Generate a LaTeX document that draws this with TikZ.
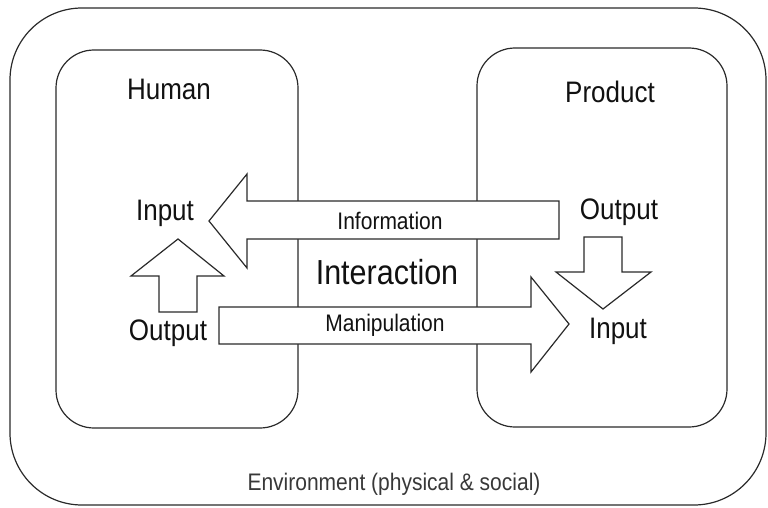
\documentclass[tikz,border=0pt]{standalone}
\usepackage{fontspec}
\setmainfont{Liberation Sans}
\usepackage{graphicx}
\definecolor{ink}{HTML}{2A2A2A}
\definecolor{lbl}{HTML}{111111}
\definecolor{envtext}{HTML}{383838}
\newcommand{\stx}[2]{\scalebox{1}[1.14]{\fontsize{#1}{#1}\selectfont #2}}
\begin{document}
\begin{tikzpicture}[x=1pt,y=-1pt,
  frame/.style={draw=ink,line width=1.2pt},
  blockarrow/.style={draw=ink,line width=1.2pt,fill=white,line join=miter},
  biglabel/.style={text=lbl,inner sep=0pt},
  smalllabel/.style={text=lbl,inner sep=0pt}]
\useasboundingbox (0,0) rectangle (768,508);
% environment
\draw[frame,rounded corners=72pt] (10,8) rectangle (766,505);
% human and product boxes
\draw[frame,rounded corners=38pt] (56,50) rectangle (298,428);
\draw[frame,rounded corners=38pt] (477,48) rectangle (727,427);
% information arrow (pointing left)
\draw[blockarrow] (559,201) -- (247,201) -- (247,174) -- (209,221) -- (247,268) -- (247,239) -- (559,239) -- cycle;
% manipulation arrow (pointing right)
\draw[blockarrow] (219,307) -- (531,307) -- (531,277) -- (569,324) -- (531,372) -- (531,344) -- (219,344) -- cycle;
% human up arrow
\draw[blockarrow] (159,312) -- (159,276) -- (131,276) -- (178,239) -- (224,276) -- (197,276) -- (197,312) -- cycle;
% product down arrow
\draw[blockarrow] (584,237) -- (622,237) -- (622,272) -- (651,272) -- (603,309) -- (556,272) -- (584,272) -- cycle;
% labels
\node[biglabel] (human) at (169,89) {\stx{26}{Human}};
\node[biglabel] (product) at (610,92) {\stx{26}{Product}};
\node[biglabel] (hin) at (165,213) {\stx{26}{Input}};
\node[biglabel] (hout) at (168,333) {\stx{26}{Output}};
\node[biglabel] (pout) at (619,212) {\stx{26}{Output}};
\node[biglabel] (pin) at (618,331) {\stx{26}{Input}};
\node[biglabel] (inter) at (387,272) {\stx{30.5}{Interaction}};
\node[smalllabel] (info) at (390,221) {\stx{21}{Information}};
\node[smalllabel] (manip) at (385,325) {\stx{21}{Manipulation}};
\node[smalllabel,text=envtext] (env) at (394,484) {\stx{21}{Environment (physical \& social)}};
\end{tikzpicture}
\end{document}
